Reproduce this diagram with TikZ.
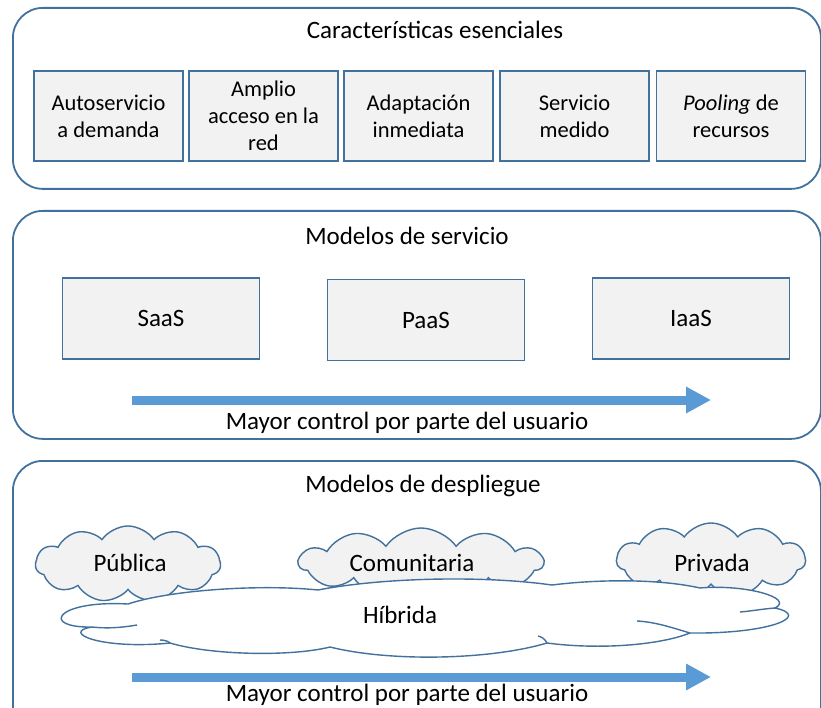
\documentclass[tikz,border=0pt]{standalone}
\usepackage{fontspec}
\setmainfont{Carlito}
\usetikzlibrary{shapes.symbols,arrows.meta}
\definecolor{bordc}{HTML}{41719C}
\definecolor{boxfill}{HTML}{F2F2F2}
\definecolor{arrowc}{HTML}{5B9BD5}
\newcommand\bigf{\fontsize{25}{30}\selectfont}
\newcommand\smallf{\fontsize{22.5}{27}\selectfont}
\tikzset{
  panel/.style={draw=bordc, line width=1.8pt, rounded corners=30pt, fill=white},
  featbox/.style={draw=bordc, line width=1.8pt, fill=boxfill, minimum width=149pt, minimum height=90pt, align=center, font=\smallf, inner sep=0pt},
  svcbox/.style={draw=bordc, line width=1.8pt, fill=boxfill, minimum width=197pt, minimum height=81pt, font=\bigf, inner sep=0pt},
  lbl/.style={font=\bigf, inner sep=0pt},
  smallcloud/.style={cloud, cloud puffs=11, cloud puff arc=110, cloud ignores aspect, draw=bordc, line width=1.4pt, fill=boxfill, inner sep=0pt},
  cloudline/.style={draw=bordc, line width=1.4pt},
  bigarrow/.style={draw=arrowc, line width=9pt, -{Triangle[width=25pt,length=25pt]}}
}
\begin{document}
\begin{tikzpicture}[x=1pt,y=-1pt]
\useasboundingbox (0,0) rectangle (821,708);
\clip (0,0) rectangle (821,708);
% panels
\node[panel, minimum width=808pt, minimum height=181pt, anchor=north west] (p1) at (12,7) {};
\node[panel, minimum width=808pt, minimum height=228pt, anchor=north west] (p2) at (12,210) {};
\node[panel, minimum width=808pt, minimum height=300pt, anchor=north west] (p3) at (12,460) {};
% panel 1
\node[lbl] (t1) at (435,30) {Características esenciales};
\node[featbox] (f1) at (108.5,116) {Autoservicio\\a demanda};
\node[featbox] (f2) at (263.5,116) {Amplio\\acceso en la\\red};
\node[featbox] (f3) at (418.5,116) {Adaptación\\inmediata};
\node[featbox] (f4) at (574.5,116) {Servicio\\medido};
\node[featbox] (f5) at (731,116) {\textit{Pooling} de\\recursos};
% panel 2
\node[lbl] (t2) at (407,236) {Modelos de servicio};
\node[svcbox] (s1) at (161,318.5) {SaaS};
\node[svcbox] (s2) at (426,320) {PaaS};
\node[svcbox] (s3) at (691,318.5) {IaaS};
\coordinate (a1s) at (132,400);
\coordinate (a1e) at (711,400);
\draw[bigarrow] (a1s) -- (a1e);
\node[lbl] (c1) at (407,423) {Mayor control por parte del usuario};
% panel 3
\node[lbl] (t3) at (423,486) {Modelos de despliegue};
\node[smallcloud, minimum width=185pt, minimum height=76pt] (pub) at (128,564) {};
\node[smallcloud, minimum width=244pt, minimum height=70pt] (com) at (421,563) {};
\node[smallcloud, minimum width=189pt, minimum height=74pt] (pri) at (711,560) {};
% hybrid cloud
\coordinate (j1) at (128,604);
\coordinate (j2) at (92,627);
\coordinate (j3) at (170,643);
\coordinate (j4) at (330,647);
\coordinate (j5) at (547,643);
\coordinate (j6) at (690,633);
\coordinate (j7) at (775,608);
\coordinate (j8) at (700,588);
\coordinate (j9) at (552,585);
\coordinate (j10) at (318,590);
\path[cloudline, fill=white] (j1)
  .. controls (55,600) and (40,628) .. (j2)
  .. controls (60,632) and (100,650) .. (j3)
  .. controls (210,655) and (290,657) .. (j4)
  .. controls (390,662) and (490,660) .. (j5)
  .. controls (600,650) and (660,645) .. (j6)
  .. controls (770,634) and (812,616) .. (j7)
  .. controls (795,598) and (745,584) .. (j8)
  .. controls (660,579) and (600,579) .. (j9)
  .. controls (480,575) and (380,578) .. (j10)
  .. controls (260,584) and (170,590) .. (j1) -- cycle;
\draw[cloudline] (j2) .. controls (110,629) and (125,627) .. (137,625);
\draw[cloudline] (j6) .. controls (670,627) and (655,622) .. (637,621);
\draw[cloudline] (j7) .. controls (762,609) and (752,611) .. (740,612);
\draw[cloudline] (j3) .. controls (168,641) and (164,640) .. (160,640);
\draw[cloudline] (j5) .. controls (545,639) and (542,637) .. (538,636);
\node[lbl] (pubt) at (130,563) {Pública};
\node[lbl] (comt) at (412,563) {Comunitaria};
\node[lbl] (prit) at (712,563) {Privada};
\node[lbl] (hibt) at (400,615) {Híbrida};
\coordinate (a2s) at (132,677);
\coordinate (a2e) at (711,677);
\draw[bigarrow] (a2s) -- (a2e);
\node[lbl] (c2) at (407,695) {Mayor control por parte del usuario};
\end{tikzpicture}
\end{document}
